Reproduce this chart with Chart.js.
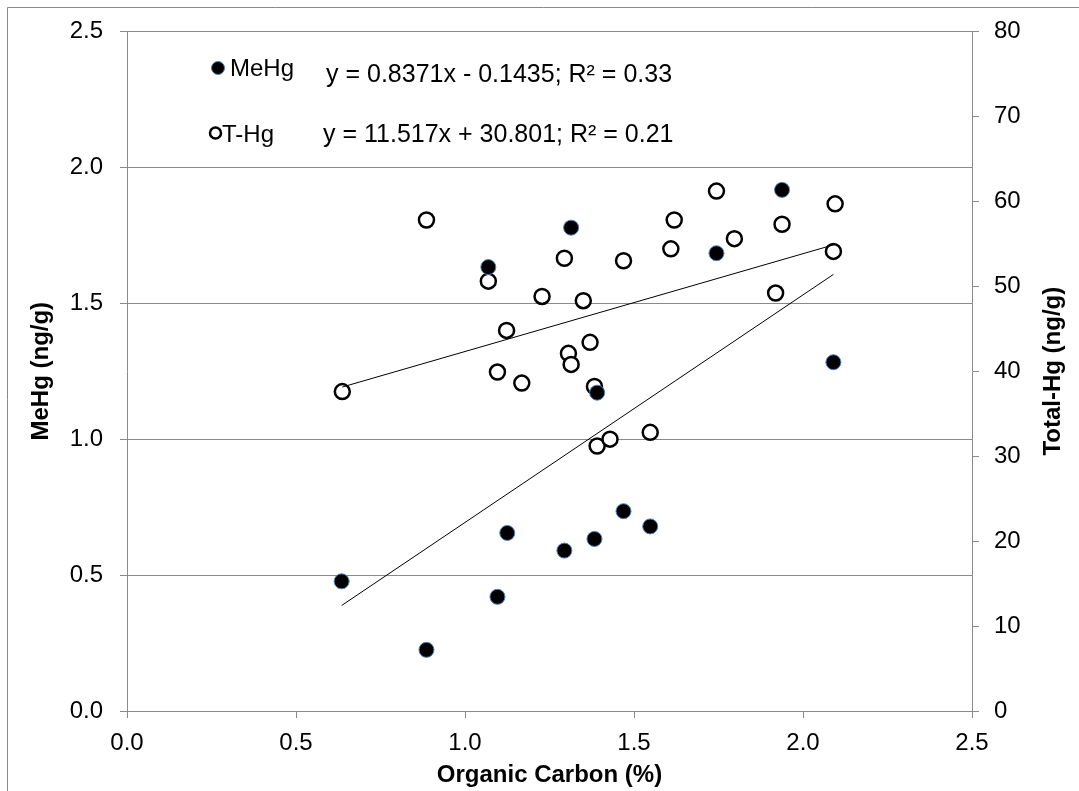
<!DOCTYPE html>
<html lang="en">
<head>
    <meta charset="UTF-8">
    <title>MeHg and Total-Hg vs Organic Carbon</title>
    <script src="https://cdn.jsdelivr.net/npm/chart.js@4.4.1/dist/chart.umd.min.js"></script>
    <style>
        body { margin: 0; background: #fff; }
        #hgChart { display: block; }
    </style>
</head>
<body>
    <canvas id="hgChart" width="1079" height="791"></canvas>
    <script>
        // organic carbon (%) and methylmercury (ng/g)
        const carbonMeHg = [0.635, 0.886, 1.069, 1.096, 1.125, 1.294, 1.314, 1.383, 1.391, 1.469, 1.548, 1.744, 1.938, 2.090];
        const meHg = [0.477, 0.225, 1.633, 0.420, 0.655, 0.590, 1.778, 0.633, 1.171, 0.735, 0.679, 1.684, 1.917, 1.283];

        // organic carbon (%) and total mercury (ng/g)
        const carbonTHg = [0.637, 0.886, 1.069, 1.096, 1.123, 1.168, 1.228, 1.294, 1.306, 1.314, 1.350, 1.370, 1.383,
                           1.391, 1.429, 1.469, 1.548, 1.609, 1.619, 1.744, 1.797, 1.919, 1.938, 2.090, 2.095];
        const totalHg = [37.6, 57.8, 50.6, 39.9, 44.8, 38.6, 48.8, 53.3, 42.1, 40.8, 48.3, 43.4, 38.2,
                         31.2, 32.0, 53.0, 32.8, 54.4, 57.8, 61.2, 55.6, 49.2, 57.3, 54.1, 59.7];

        // linear fits as printed on the chart: [slope, intercept]
        const fitMeHg = [0.8371, -0.1435];
        const fitTHg = [11.517, 30.801];
        const eqMeHg = 'y = 0.8371x - 0.1435; R\u00B2 = 0.33';
        const eqTHg = 'y = 11.517x + 30.801; R\u00B2 = 0.21';

        const xTicks = [0, 0.5, 1.0, 1.5, 2.0, 2.5];
        const leftTicks = [0, 0.5, 1.0, 1.5, 2.0, 2.5];
        const rightTicks = [0, 10, 20, 30, 40, 50, 60, 70, 80];

        const FONT = '"Liberation Sans", Arial, sans-serif';
        const GRAY = '#898989';

        function toPoints(xs, ys) {
            return xs.map((x, i) => ({ x: x, y: ys[i] }));
        }

        function fitLine(xs, fit) {
            const lo = Math.min(...xs), hi = Math.max(...xs);
            return [{ x: lo, y: fit[0] * lo + fit[1] }, { x: hi, y: fit[0] * hi + fit[1] }];
        }

        // outer frame, legend with equations, right axis title
        const decorations = {
            id: 'decorations',
            beforeDraw(chart) {
                const ctx = chart.ctx;
                ctx.save();
                ctx.strokeStyle = GRAY;
                ctx.lineWidth = 1;
                ctx.beginPath();
                ctx.moveTo(7.5, chart.height);
                ctx.lineTo(7.5, 7.5);
                ctx.lineTo(chart.width, 7.5);
                ctx.stroke();
                ctx.restore();
            },
            afterDraw(chart) {
                const ctx = chart.ctx;
                const area = chart.chartArea;
                const lx = area.left;
                ctx.save();
                ctx.fillStyle = '#000';
                ctx.textBaseline = 'alphabetic';

                // MeHg entry
                ctx.beginPath();
                ctx.arc(lx + 91, 68, 6.5, 0, Math.PI * 2);
                ctx.fillStyle = '#000';
                ctx.fill();
                ctx.strokeStyle = '#4f81bd';
                ctx.lineWidth = 1;
                ctx.stroke();
                ctx.font = '24px ' + FONT;
                ctx.fillText('MeHg', lx + 103, 76);
                ctx.font = '25px ' + FONT;
                ctx.fillText(eqMeHg, lx + 199, 82);

                // T-Hg entry
                ctx.beginPath();
                ctx.arc(lx + 88.5, 133, 5.5, 0, Math.PI * 2);
                ctx.fillStyle = '#fff';
                ctx.fill();
                ctx.strokeStyle = '#000';
                ctx.lineWidth = 2.5;
                ctx.stroke();
                ctx.fillStyle = '#000';
                ctx.font = '24px ' + FONT;
                ctx.fillText('T-Hg', lx + 95, 142);
                ctx.font = '25px ' + FONT;
                ctx.fillText(eqTHg, lx + 196, 142);

                // right axis title reads bottom to top
                ctx.font = 'bold 24px ' + FONT;
                ctx.textAlign = 'center';
                ctx.textBaseline = 'middle';
                ctx.translate(1053, (area.top + area.bottom) / 2);
                ctx.rotate(-Math.PI / 2);
                ctx.fillText('Total-Hg (ng/g)', 0, 0);
                ctx.restore();
            }
        };

        const tickFont = { family: FONT, size: 24 };
        const titleFont = { family: FONT, size: 24, weight: 'bold' };

        new Chart(document.getElementById('hgChart').getContext('2d'), {
            type: 'scatter',
            data: {
                datasets: [
                    {
                        label: 'MeHg trend',
                        type: 'line',
                        data: fitLine(carbonMeHg, fitMeHg),
                        yAxisID: 'y',
                        borderColor: '#000',
                        borderWidth: 1,
                        pointRadius: 0,
                        fill: false,
                        order: 0
                    },
                    {
                        label: 'T-Hg trend',
                        type: 'line',
                        data: fitLine(carbonTHg, fitTHg),
                        yAxisID: 'y1',
                        borderColor: '#000',
                        borderWidth: 1,
                        pointRadius: 0,
                        fill: false,
                        order: 0
                    },
                    {
                        label: 'MeHg',
                        data: toPoints(carbonMeHg, meHg),
                        yAxisID: 'y',
                        backgroundColor: '#000',
                        borderColor: '#4f81bd',
                        borderWidth: 1,
                        pointRadius: 7.5,
                        order: 1
                    },
                    {
                        label: 'T-Hg',
                        data: toPoints(carbonTHg, totalHg),
                        yAxisID: 'y1',
                        backgroundColor: '#fff',
                        borderColor: '#000',
                        borderWidth: 2.5,
                        pointRadius: 7.5,
                        order: 2
                    }
                ]
            },
            options: {
                responsive: false,
                animation: false,
                devicePixelRatio: 1,
                layout: { padding: { top: 24, left: 0, right: 0, bottom: 0 } },
                plugins: {
                    legend: { display: false },
                    tooltip: { enabled: false }
                },
                scales: {
                    x: {
                        type: 'linear',
                        position: 'bottom',
                        min: 0,
                        max: 2.5,
                        afterBuildTicks: s => { s.ticks = xTicks.map(v => ({ value: v })); },
                        afterFit: s => { s.height = 80; },
                        ticks: { font: tickFont, color: '#000', padding: 11, callback: v => v.toFixed(1) },
                        grid: { drawOnChartArea: false, tickLength: 7, color: GRAY, tickColor: GRAY },
                        border: { color: GRAY },
                        title: { display: true, text: 'Organic Carbon (%)', font: titleFont, color: '#000', padding: { top: 0, bottom: 1 } }
                    },
                    y: {
                        position: 'left',
                        min: 0,
                        max: 2.5,
                        afterBuildTicks: s => { s.ticks = leftTicks.map(v => ({ value: v })); },
                        afterFit: s => { s.width = 127; },
                        ticks: { font: tickFont, color: '#000', padding: 17, callback: v => v.toFixed(1) },
                        grid: { color: GRAY, tickLength: 7, tickColor: GRAY },
                        border: { color: GRAY },
                        title: { display: true, text: 'MeHg (ng/g)', font: titleFont, color: '#000', padding: { top: 27, bottom: 0 } }
                    },
                    y1: {
                        position: 'right',
                        min: 0,
                        max: 80,
                        afterBuildTicks: s => { s.ticks = rightTicks.map(v => ({ value: v })); },
                        afterFit: s => { s.width = 107; },
                        ticks: { font: tickFont, color: '#000', padding: 15 },
                        grid: { drawOnChartArea: false, tickLength: 7, color: GRAY, tickColor: GRAY },
                        border: { color: GRAY }
                    }
                }
            },
            plugins: [decorations]
        });
    </script>
</body>
</html>
